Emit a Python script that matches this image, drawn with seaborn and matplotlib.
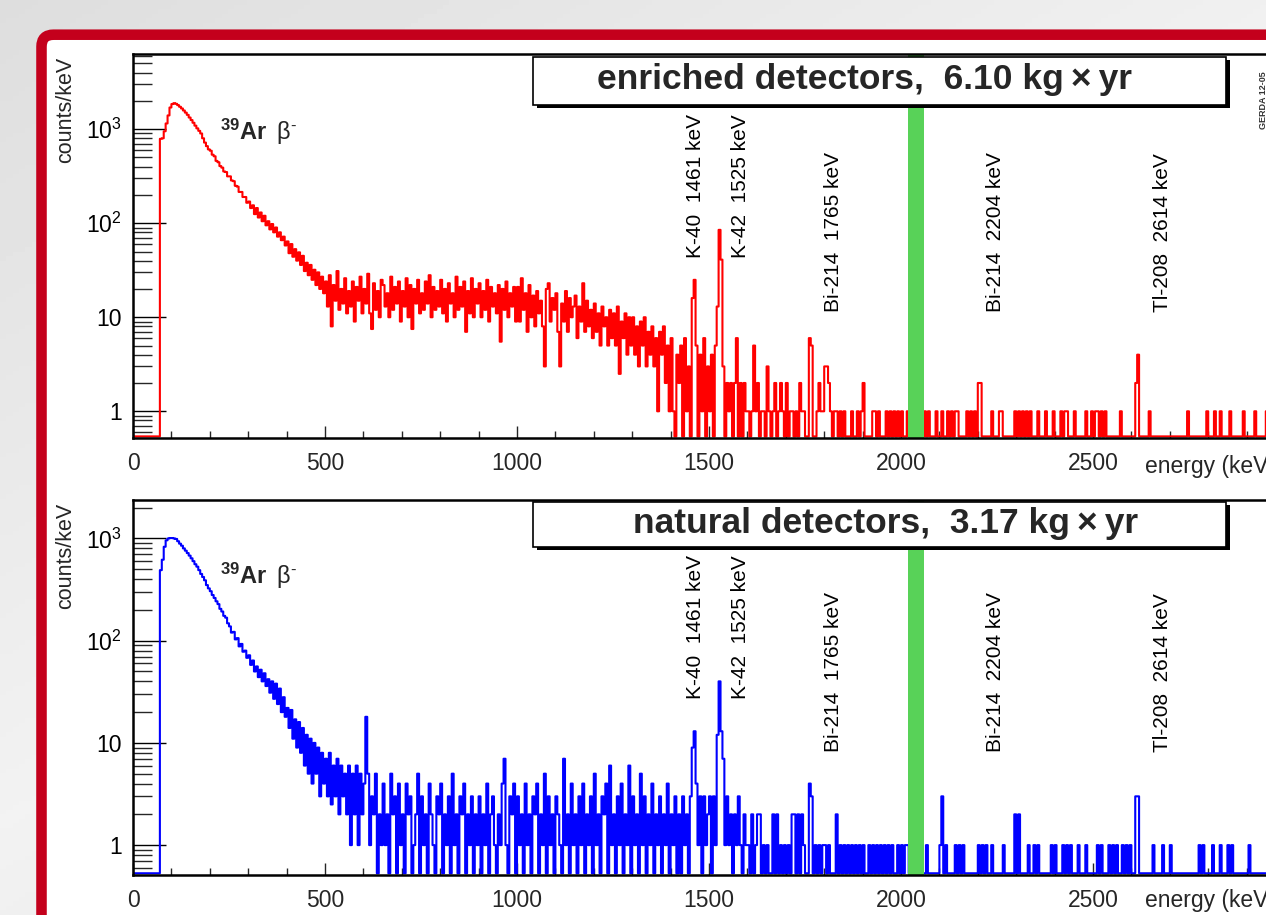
import numpy as np
import pandas as pd
import matplotlib
matplotlib.use("Agg")
import matplotlib.pyplot as plt
import seaborn as sns
from matplotlib.patches import FancyBboxPatch, Rectangle
from matplotlib.transforms import IdentityTransform
from matplotlib.ticker import MultipleLocator, FixedLocator, FixedFormatter, LogLocator, NullFormatter

# ---------------- data (counts/keV, 5 keV bins) ----------------
BIN = 5
E_MAX = 3000
CONT_START = 70          # first bin of the continuum lists (keV)

# enriched detectors, 70 ... 1595 keV
enr_cont = [
    790, 800, 950, 1150, 1400, 1700, 1850, 1890, 1860, 1800,
    1730, 1660, 1580, 1500, 1420, 1330, 1250, 1170, 1090, 1020,
    960, 900, 800, 720, 660, 610,
    590, 535, 515, 460, 445, 405, 390, 355, 350, 315,
    315, 285, 280, 250, 245, 215, 215, 190, 190, 165,
    170, 145, 155, 125, 145, 115, 130, 105, 120, 95,
    105, 86, 98, 80, 90, 72, 80, 66, 72, 58,
    64, 48, 60, 44, 53, 40, 49, 36, 45, 31,
    38, 28, 36, 25, 32, 22, 30, 20, 27, 18,
    24, 13, 28, 8, 22, 15, 31, 12, 20, 14,
    26, 11, 19, 13, 24, 9, 21, 15, 27, 11,
    20, 14, 29, 11, 7.5, 23, 12, 19, 10, 25,
    22, 13, 18, 10, 27, 12, 21, 14, 24, 9,
    19, 13, 26, 10, 22, 7.5, 20, 14, 25, 11,
    18, 12, 24, 14, 28, 10, 21, 12, 19, 13,
    25, 11, 20, 9, 23, 14, 18, 10, 27, 12,
    21, 13, 24, 7, 19, 11, 26, 10, 20, 14,
    23, 10, 19, 12, 25, 9, 21, 13, 18, 11,
    22, 5.5, 20, 12, 24, 10, 18, 13, 21, 9,
    21, 9, 26, 12, 18, 7, 22, 10, 17, 8,
    19, 11, 15, 8, 3, 20, 23, 9, 16, 12,
    18, 7, 3, 14, 9, 19, 7, 16, 10, 13,
    17, 6, 13, 9, 23, 7, 15, 8, 12, 6,
    14, 7, 11, 5, 13, 8, 10, 5, 12, 6,
    11, 5, 13, 2.5, 9, 6, 11, 4, 10, 5,
    10, 4, 8, 3, 9, 5, 10, 3, 7, 4,
    8, 3, 6, 1, 7, 4, 8, 2, 5, 1,
    6, 1, 0, 4, 2, 5, 0, 6, 1, 3,
    0, 16, 25, 5, 0, 4, 1, 6, 0, 3,
    1, 4, 0, 5, 13, 85, 41, 3, 0, 2,
    1, 2, 0, 2, 6, 0, 2, 0, 2, 1,
]
# enriched detectors, isolated bins above 1600 keV (bin start, counts/keV)
enr_hi_E = [1600, 1610, 1615, 1620, 1625, 1635, 1640, 1650, 1655, 1665, 1670, 1680,
            1685, 1690, 1700, 1710, 1715, 1725, 1735, 1740, 1745, 1760, 1765, 1780,
            1785, 1790, 1795, 1800, 1805, 1810, 1815, 1825, 1830, 1840, 1850, 1870,
            1885, 1895, 1900, 1925, 1930, 1940, 1960, 1970, 1980, 1990, 2000, 2015,
            2060, 2070, 2090, 2105, 2120, 2130, 2140, 2145, 2170, 2180, 2190, 2200,
            2205, 2235, 2255, 2260, 2295, 2305, 2315, 2325, 2335, 2355, 2375, 2395,
            2415, 2425, 2430, 2450, 2480, 2495, 2505, 2510, 2520, 2530, 2570, 2610,
            2615, 2645, 2745, 2795, 2815, 2830, 2855, 2890, 2920, 2950, 2975]
enr_hi_v = [1, 1, 5, 1, 2, 1, 1, 3, 1, 1, 2, 1,
            2, 1, 2, 1, 1, 1, 2, 1, 1, 6, 5, 1,
            2, 1, 1, 3, 3, 2, 1, 1, 1, 1, 1, 1,
            1, 1, 2, 1, 1, 1, 1, 1, 1, 1, 1, 1,
            1, 1, 1, 1, 1, 1, 1, 1, 1, 1, 1, 2,
            2, 1, 1, 1, 1, 1, 1, 1, 1, 1, 1, 1,
            1, 1, 1, 1, 1, 1, 1, 1, 1, 1, 1, 2,
            4, 1, 1, 1, 1, 1, 1, 1, 1, 1, 1]

# natural detectors, 70 ... 1595 keV
nat_cont = [
    490, 620, 830, 960, 1000, 1010, 1010, 1000, 990, 940,
    890, 850, 800, 760, 720, 680, 640, 600, 560, 530,
    490, 450, 420, 390, 350, 325,
    305, 280, 262, 243, 228, 205, 193, 175, 168, 148,
    138, 120, 122, 103, 106, 88, 93, 78, 80, 68,
    72, 58, 64, 50, 56, 44, 52, 40, 48, 36,
    42, 31, 40, 27, 38, 24, 34, 20, 28, 18,
    22, 14, 21, 11, 17, 9, 16, 8, 14, 6,
    12, 5, 11, 4, 10, 5, 9, 3, 8, 4,
    7, 3, 8, 2.5, 6, 3, 7, 2, 6, 3,
    5, 2, 6, 1, 5, 2, 6, 1, 5, 2,
    4, 18, 5, 1, 3, 2, 5, 0, 2, 1,
    4, 1, 2, 0, 5, 2, 3, 0, 4, 1,
    2, 0, 4, 2, 3, 0, 1, 2, 5, 0,
    3, 1, 2, 0, 4, 2, 1, 0, 3, 2,
    4, 0, 2, 1, 3, 0, 5, 1, 2, 0,
    3, 2, 4, 0, 2, 1, 3, 0, 2, 1,
    3, 0, 2, 1, 4, 0, 2, 3, 1, 0,
    2, 1, 4, 7, 1, 0, 3, 2, 4, 0,
    3, 1, 2, 0, 4, 1, 2, 0, 3, 2,
    4, 0, 2, 1, 5, 0, 3, 1, 2, 0,
    3, 2, 1, 0, 7, 1, 2, 0, 4, 1,
    2, 0, 3, 1, 4, 0, 2, 1, 3, 0,
    5, 1, 2, 0, 3, 2, 4, 0, 6, 1,
    2, 0, 3, 1, 4, 0, 2, 1, 6, 0,
    3, 1, 2, 0, 5, 1, 3, 0, 2, 1,
    4, 0, 2, 1, 3, 0, 2, 1, 4, 0,
    2, 1, 3, 0, 2, 0, 3, 1, 2, 0,
    3, 9, 13, 4, 1, 3, 0, 3, 1, 2,
    3, 0, 3, 1, 12, 40, 13, 7, 1, 3,
    1, 2, 0, 2, 1, 3, 1, 0, 2, 1,
]
nat_hi_E = [1600, 1610, 1620, 1625, 1630, 1640, 1650, 1665, 1675, 1685, 1695, 1705,
            1715, 1720, 1730, 1740, 1745, 1760, 1765, 1775, 1785, 1795, 1800, 1810,
            1830, 1840, 1850, 1860, 1870, 1880, 1890, 1900, 1915, 1925, 1935, 1945,
            1955, 1965, 1975, 1990, 2000, 2010, 2015, 2065, 2100, 2105, 2115, 2140,
            2150, 2160, 2200, 2210, 2220, 2235, 2265, 2295, 2305, 2330, 2345, 2355,
            2390, 2400, 2420, 2430, 2440, 2460, 2480, 2510, 2520, 2540, 2550, 2560,
            2575, 2585, 2595, 2610, 2615, 2655, 2680, 2700, 2775, 2785, 2810, 2830,
            2850, 2860, 2905]
nat_hi_v = [1, 2, 1, 2, 2, 1, 1, 2, 2, 1, 1, 1,
            2, 2, 2, 2, 1, 4, 3, 1, 1, 1, 1, 1,
            2, 1, 1, 1, 1, 1, 1, 1, 1, 1, 1, 1,
            1, 1, 1, 1, 1, 1, 1, 1, 1, 3, 1, 1,
            1, 1, 1, 1, 1, 1, 1, 2, 2, 1, 1, 1,
            1, 1, 1, 1, 1, 1, 1, 1, 1, 1, 1, 1,
            1, 1, 1, 3, 3, 1, 1, 1, 1, 1, 1, 1,
            1, 1, 1]

# gamma lines (label, x position of label in keV)
line_labels = ["K-40  1461 keV", "K-42  1525 keV", "Bi-214  1765 keV",
               "Bi-214  2204 keV", "Tl-208  2614 keV"]
line_label_x = [1464, 1581, 1823, 2245, 2680]
line_label_yfrac = [0.469, 0.469, 0.328, 0.328, 0.328]
blind_window = (2019, 2059)

x_ticks = [0, 500, 1000, 1500, 2000, 2500]
y_ticks = [1, 10, 100, 1000]
y_tick_labels = ["1", "10", r"$\mathregular{10^{2}}$", r"$\mathregular{10^{3}}$"]

panels = [
    dict(cont=enr_cont, hiE=enr_hi_E, hiV=enr_hi_v, color="#ff0000",
         title="enriched detectors,  6.10 kg\u2009\u00d7\u2009yr", ylim=(0.52, 6300)),
    dict(cont=nat_cont, hiE=nat_hi_E, hiV=nat_hi_v, color="#0000ff",
         title="natural detectors,  3.17 kg\u2009\u00d7\u2009yr", ylim=(0.51, 2380)),
]

# ---------------- style ----------------
sns.set_theme(style="white")
plt.rcParams["font.family"] = ["Liberation Sans", "DejaVu Sans"]
plt.rcParams["mathtext.fontset"] = "custom"
plt.rcParams["mathtext.rm"] = "Liberation Sans"
plt.rcParams["mathtext.bf"] = "Liberation Sans:bold"
plt.rcParams["mathtext.it"] = "Liberation Sans:italic"

W, H = 1266, 915
fig = plt.figure(figsize=(W / 100, H / 100), dpi=100)
fig.patch.set_facecolor("#e2e2e0")

# background gradient (decoration)
bg = fig.add_axes([0, 0, 1, 1], zorder=-10)
gx, gy = np.meshgrid(np.linspace(0, 1, 200), np.linspace(0, 1, 200))
grad = 0.86 + 0.09 * np.clip(1 - np.abs((gx * 0.8 + gy) - 0.9), 0, 1)
bg.imshow(grad, cmap="gray", vmin=0, vmax=1, extent=[0, 1, 0, 1], aspect="auto")
bg.set_axis_off()

# red slide frame
frame = FancyBboxPatch((41.5, -60), 1300, H - 34.7 + 60,
                       boxstyle="round,pad=0,rounding_size=12",
                       transform=IdentityTransform(), facecolor="white",
                       edgecolor="#c4001c", linewidth=7.6, zorder=-5)
fig.add_artist(frame)

axes_px = [(54, 438), (500, 875)]     # top, bottom of each panel in pixels
box_px = [(57, 105), (502, 547)]
title_center = [(864, 80), (886, 524)]
energy_label_y = [467, 900]

for p, (top, bot), (btop, bbot), (tcx, tcy), ely in zip(
        panels, axes_px, box_px, title_center, energy_label_y):
    ax = fig.add_axes([133 / W, 1 - bot / H, 1152 / W, (bot - top) / H])
    ax.set_facecolor("none")

    vals = np.zeros(E_MAX // BIN)
    i0 = CONT_START // BIN
    vals[i0:i0 + len(p["cont"])] = p["cont"]
    for e, v in zip(p["hiE"], p["hiV"]):
        vals[e // BIN] = v
    ymin = p["ylim"][0]
    edges = np.arange(0, E_MAX + BIN, BIN)
    yy = np.append(vals, vals[-1])
    yy = np.where(yy > 0, yy, ymin * 1.04)
    df = pd.DataFrame({"energy": edges, "counts": yy})
    sns.lineplot(data=df, x="energy", y="counts", drawstyle="steps-post",
                 color=p["color"], linewidth=1.5, estimator=None, sort=False,
                 ax=ax, zorder=2)

    ax.set_yscale("log")
    ax.set_xlim(0, E_MAX)
    ax.set_ylim(*p["ylim"])
    ax.axvspan(*blind_window, color="#58d258", lw=0, zorder=2.2)

    ax.xaxis.set_major_locator(FixedLocator(x_ticks))
    ax.xaxis.set_minor_locator(MultipleLocator(100))
    ax.yaxis.set_major_locator(FixedLocator(y_ticks))
    ax.yaxis.set_major_formatter(FixedFormatter(y_tick_labels))
    ax.yaxis.set_minor_locator(LogLocator(base=10, subs=np.arange(2, 10)))
    ax.yaxis.set_minor_formatter(NullFormatter())
    ax.tick_params(axis="y", which="major", direction="in", length=24, width=1.0,
                   labelsize=16.5, pad=8, left=True, right=False, colors="black")
    ax.tick_params(axis="y", which="minor", direction="in", length=13.5, width=1.0,
                   left=True, right=False)
    ax.tick_params(axis="x", which="major", direction="in", length=8.5, width=1.0,
                   labelsize=16.5, pad=10, bottom=True, top=False)
    ax.tick_params(axis="x", which="minor", direction="in", length=5, width=1.0,
                   bottom=True, top=False)
    for s in ["left", "bottom", "top"]:
        ax.spines[s].set_color("black")
        ax.spines[s].set_linewidth(1.8)
        ax.spines[s].set_visible(True)
    ax.spines["right"].set_visible(False)
    ax.set_xlabel("")
    ax.set_ylabel("")

    for lab, lx, lyf in zip(line_labels, line_label_x, line_label_yfrac):
        ax.text(lx, lyf, lab, transform=ax.get_xaxis_transform(), rotation=90,
                ha="center", va="bottom", fontsize=15, color="black", zorder=4)

    ax.text(227, 0.776, r"$^{\mathbf{39}}\mathbf{Ar}\;\;\mathrm{\beta}^{\text{-}}$",
            transform=ax.get_xaxis_transform(), fontsize=17, ha="left",
            va="baseline", zorder=4)

    # title box with shadow
    fig.add_artist(Rectangle((537, H - bbot - 3), 1226 - 533, bbot - btop,
                             transform=IdentityTransform(), facecolor="black",
                             edgecolor="black", lw=0, zorder=5))
    fig.add_artist(Rectangle((533, H - bbot), 1226 - 533, bbot - btop,
                             transform=IdentityTransform(), facecolor="white",
                             edgecolor="black", lw=1.2, zorder=6))
    fig.text(tcx / W, 1 - tcy / H, p["title"], ha="center", va="center",
             fontsize=25.5, fontweight="bold", zorder=7)

    fig.text(66 / W, 1 - top / H - 3 / H, "counts/keV", rotation=90, ha="center",
             va="top", fontsize=15.5)
    fig.text(1145 / W, 1 - ely / H, "energy (keV)", ha="left", va="center",
             fontsize=16.5)

fig.text(1263 / W, 1 - 100 / H, "GERDA 12-05", rotation=90, ha="center",
         va="center", fontsize=6.5, fontweight="bold", color="#333333")

fig.savefig("out.png", dpi=100)
